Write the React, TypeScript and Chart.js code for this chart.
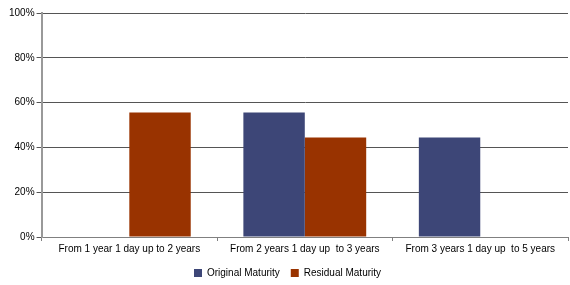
import React, { useEffect, useRef } from "react";
import { Chart, registerables } from "chart.js";

Chart.register(...registerables);

const categories = [
  "From 1 year 1 day up to 2 years",
  "From 2 years 1 day up  to 3 years",
  "From 3 years 1 day up  to 5 years",
];
const originalMaturity = [null, 55.56, 44.44];
const residualMaturity = [55.56, 44.44, null];
const yTicks = [0, 20, 40, 60, 80, 100];

export default function App() {
  const ref = useRef<HTMLCanvasElement>(null);
  useEffect(() => {
    document.body.style.margin = "0";
    const chart = new Chart(ref.current!, {
      type: "bar",
      data: {
        labels: categories,
        datasets: [
          {
            label: "Original Maturity",
            data: originalMaturity,
            backgroundColor: "#3D4677",
            borderWidth: 0,
            categoryPercentage: 0.7,
            barPercentage: 1,
          },
          {
            label: "Residual Maturity",
            data: residualMaturity,
            backgroundColor: "#993300",
            borderWidth: 0,
            categoryPercentage: 0.7,
            barPercentage: 1,
          },
        ],
      },
      options: {
        animation: false,
        responsive: false,
        layout: { padding: { top: 13, right: 2, left: 7, bottom: -3 } },
        plugins: {
          legend: {
            position: "bottom",
            labels: {
              boxWidth: 8,
              boxHeight: 8,
              padding: 11,
              color: "#000",
              font: { family: "Liberation Sans, Arial, sans-serif", size: 10 },
            },
          },
          tooltip: { enabled: false },
        },
        scales: {
          x: {
            offset: true,
            grid: {
              offset: true,
              drawOnChartArea: false,
              drawTicks: true,
              tickLength: 4,
              color: "#808080",
            },
            border: { color: "#808080", width: 1 },
            ticks: {
              color: "#000",
              maxRotation: 0,
              autoSkip: false,
              padding: 2,
              font: { family: "Liberation Sans, Arial, sans-serif", size: 10 },
            },
          },
          y: {
            min: 0,
            max: 100,
            afterBuildTicks: (axis: any) => {
              axis.ticks = yTicks.map((v) => ({ value: v }));
            },
            grid: { color: "#555", tickLength: 5, lineWidth: 1 },
            border: { color: "#999", width: 2 },
            ticks: {
              color: "#000",
              padding: 2,
              callback: (v: any) => v + "%",
              font: { family: "Liberation Sans, Arial, sans-serif", size: 10 },
            },
          },
        },
      },
    });
    return () => chart.destroy();
  }, []);
  return (
    <div style={{ position: "absolute", left: 0, top: 0, width: 570, height: 285 }}>
      <canvas ref={ref} width={570} height={285} style={{ width: 570, height: 285 }} />
    </div>
  );
}
